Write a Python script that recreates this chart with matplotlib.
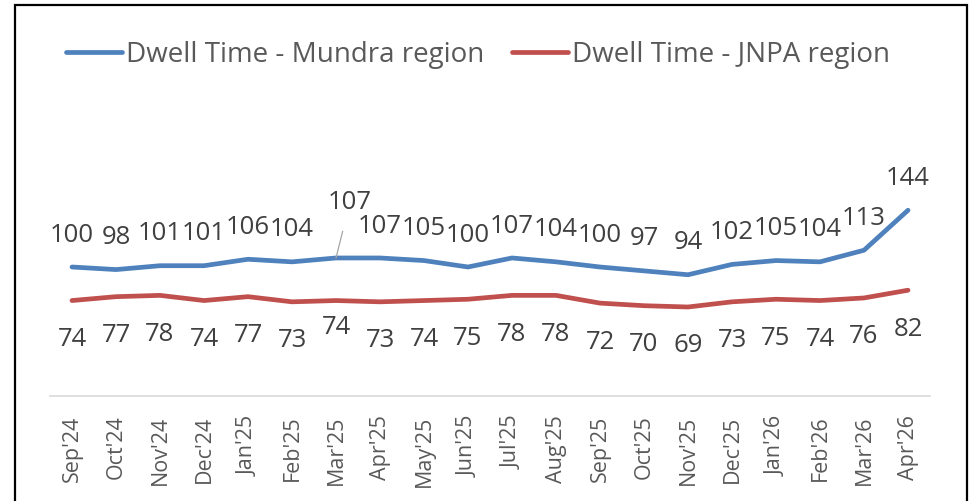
import matplotlib.pyplot as plt
from matplotlib.patches import Rectangle

# --- data ---
months = ["Sep'24", "Oct'24", "Nov'24", "Dec'24", "Jan'25", "Feb'25", "Mar'25",
          "Apr'25", "May'25", "Jun'25", "Jul'25", "Aug'25", "Sep'25", "Oct'25",
          "Nov'25", "Dec'25", "Jan'26", "Feb'26", "Mar'26", "Apr'26"]
mundra = [100, 98, 101, 101, 106, 104, 107, 107, 105, 100,
          107, 104, 100, 97, 94, 102, 105, 104, 113, 144]
jnpa = [74, 77, 78, 74, 77, 73, 74, 73, 74, 75,
        78, 78, 72, 70, 69, 73, 75, 74, 76, 82]

blue = '#4F81BD'
red = '#C0504D'
label_col = '#404040'

plt.rcParams['font.family'] = ['Open Sans', 'DejaVu Sans']

W, H = 972, 501
fig = plt.figure(figsize=(W / 100, H / 100), dpi=100)

# plot area in pixel terms: x 50..930, y (bottom) 396
ax_left, ax_right, ax_bottom, ax_top = 50, 930, 396, 138
ax = fig.add_axes([ax_left / W, 1 - ax_bottom / H,
                   (ax_right - ax_left) / W, (ax_bottom - ax_top) / H])

x = list(range(len(months)))
l1, = ax.plot(x, mundra, color=blue, lw=3.4, solid_capstyle='round',
              solid_joinstyle='round', label='Dwell Time - Mundra region')
l2, = ax.plot(x, jnpa, color=red, lw=3.4, solid_capstyle='round',
              solid_joinstyle='round', label='Dwell Time - JNPA region')

ax.set_xlim(-0.5, len(months) - 0.5)
ax.set_ylim(0, 200)

# data labels
for i, v in enumerate(mundra):
    if months[i] == "Mar'25":
        ax.annotate(str(v), (i, v), xytext=(10, 40), textcoords='offset points',
                    ha='center', va='center', fontsize=18.5, color=label_col,
                    arrowprops=dict(arrowstyle='-', color='#A6A6A6', lw=0.9,
                                    shrinkA=10, shrinkB=0),
                    annotation_clip=False)
    else:
        ax.annotate(str(v), (i, v), xytext=(0, 23), textcoords='offset points',
                    ha='center', va='center', fontsize=18.5, color=label_col,
                    annotation_clip=False)

for i, v in enumerate(jnpa):
    dy = -19.5 if months[i] == "Mar'25" else -28
    ax.annotate(str(v), (i, v), xytext=(0, dy), textcoords='offset points',
                ha='center', va='center', fontsize=18.5, color=label_col,
                annotation_clip=False)

# axes styling
for s in ['top', 'right', 'left']:
    ax.spines[s].set_visible(False)
ax.spines['bottom'].set_color('#D9D9D9')
ax.spines['bottom'].set_linewidth(1.2)
ax.set_yticks([])
ax.set_xticks(x)
ax.set_xticklabels(months, rotation=90, fontsize=15.5, color='#595959')
ax.tick_params(axis='x', length=0, pad=14)

# legend
fig.legend(handles=[l1, l2], loc='center', bbox_to_anchor=(478 / W, 1 - 55 / H),
           ncol=2, frameon=False, fontsize=20, labelcolor='#595959',
           handlelength=2.0, handletextpad=0.15, columnspacing=1.0)

# outer frame
fig.patches.append(Rectangle((15 / W, -0.05), (967 - 15) / W, 1.05 - 5 / H,
                             transform=fig.transFigure, fill=False,
                             edgecolor='black', lw=1.6))

fig.savefig('out.png', dpi=100)
